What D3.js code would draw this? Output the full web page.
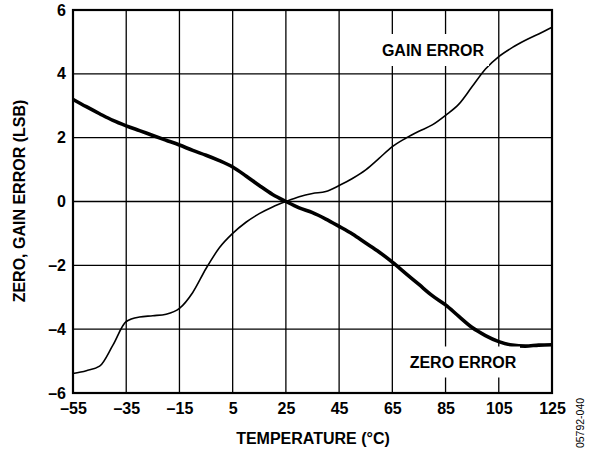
<!DOCTYPE html>
<html><head><meta charset="utf-8">
<script src="https://cdn.jsdelivr.net/npm/d3@7"></script>
<style>
html,body{margin:0;padding:0;background:#fff;}
text{font-family:"Liberation Sans",Arial,sans-serif;}
</style></head>
<body><svg id="c" width="598" height="452"></svg>
<script>
const temps = [-55,-50,-45,-40,-35,-30,-25,-20,-15,-10,-5,0,5,10,15,20,25,30,35,40,45,50,55,60,65,70,75,80,85,90,95,100,105,110,115,120,125];
const gainError = [-5.39,-5.3,-5.16,-4.5,-3.76,-3.62,-3.58,-3.53,-3.35,-2.85,-2.1,-1.45,-1.0,-0.65,-0.38,-0.17,0,0.15,0.25,0.31,0.5,0.72,0.99,1.35,1.72,1.98,2.2,2.4,2.7,3.05,3.6,4.15,4.54,4.82,5.05,5.25,5.46];
const zeroError = [3.2,2.97,2.75,2.54,2.37,2.22,2.07,1.92,1.77,1.6,1.45,1.28,1.08,0.8,0.5,0.22,0,-0.2,-0.35,-0.55,-0.78,-1.02,-1.3,-1.58,-1.9,-2.25,-2.6,-2.95,-3.24,-3.6,-3.95,-4.2,-4.39,-4.5,-4.53,-4.5,-4.49];
const xTicks = [-55,-35,-15,5,25,45,65,85,105,125];
const yTicks = [-6,-4,-2,0,2,4,6];
const xTitle = "TEMPERATURE (°C)";
const yTitle = "ZERO, GAIN ERROR (LSB)";
const fmt = v => (v < 0 ? "\u2013" + Math.abs(v) : String(v));

const svg = d3.select("#c");
const L = 73, R = 552, T = 10, B = 393;
const FS = 16;
const x = d3.scaleLinear().domain([-55,125]).range([L,R]);
const y = d3.scaleLinear().domain([-6,6]).range([B,T]);

// grid
const g = svg.append("g");
g.selectAll("line.vx").data(xTicks).join("line")
  .attr("x1",d=>x(d)).attr("x2",d=>x(d)).attr("y1",T).attr("y2",B)
  .attr("stroke","#000").attr("stroke-width",1.3);
g.selectAll("line.hy").data(yTicks).join("line")
  .attr("y1",d=>y(d)).attr("y2",d=>y(d)).attr("x1",L).attr("x2",R)
  .attr("stroke","#000").attr("stroke-width",1.3);

// axes with labels
const xa = svg.append("g").attr("transform",`translate(0,${B})`)
  .call(d3.axisBottom(x).tickValues(xTicks).tickSize(0).tickPadding(10).tickFormat(fmt));
const ya = svg.append("g").attr("transform",`translate(${L},0)`)
  .call(d3.axisLeft(y).tickValues(yTicks).tickSize(0).tickPadding(7).tickFormat(fmt));
[xa,ya].forEach(a=>{
  a.select(".domain").remove();
  a.selectAll("text").attr("font-family","Liberation Sans, Arial, sans-serif")
    .attr("font-size",FS).attr("font-weight","bold").attr("fill","#000");
});

// curves
const line = d3.line().x((d,i)=>x(temps[i])).y(d=>y(d)).curve(d3.curveMonotoneX);
svg.append("path").attr("d",line(gainError)).attr("fill","none").attr("stroke","#000").attr("stroke-width",1.6);
svg.append("path").attr("d",line(zeroError)).attr("fill","none").attr("stroke","#000").attr("stroke-width",3.6);

// series labels with white boxes
function label(txt, cx, cy, w, h){
  svg.append("rect").attr("x",cx-w/2).attr("y",cy-h/2).attr("width",w).attr("height",h).attr("fill","#fff");
  svg.append("text").attr("x",cx).attr("y",cy).attr("text-anchor","middle").attr("dominant-baseline","central")
    .attr("font-size",FS).attr("font-weight","bold").text(txt);
}
label("GAIN ERROR", 433, 50, 112, 32);
label("ZERO ERROR", 463, 362, 114, 31);

// frame
svg.append("rect").attr("x",L).attr("y",T).attr("width",R-L).attr("height",B-T)
  .attr("fill","none").attr("stroke","#000").attr("stroke-width",2.2);

// titles
svg.append("text").attr("x",313).attr("y",444).attr("text-anchor","middle")
  .attr("font-size",FS).attr("font-weight","bold").text(xTitle);
svg.append("text").attr("transform","translate(25,201) rotate(-90)").attr("text-anchor","middle")
  .attr("font-size",FS).attr("font-weight","bold").text(yTitle);
svg.append("text").attr("transform","translate(584,423) rotate(-90)").attr("text-anchor","middle")
  .attr("font-size",10.5).text("05792-040");
</script></body></html>
